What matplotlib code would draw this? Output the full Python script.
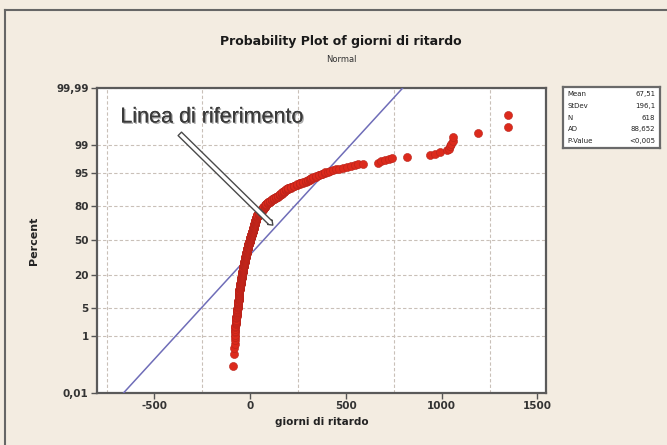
import numpy as np
import matplotlib
matplotlib.use("Agg")
import matplotlib.pyplot as plt
import matplotlib.patheffects as pe
from matplotlib.lines import Line2D
from statistics import NormalDist

plt.rcParams["axes.unicode_minus"] = False

# delay in days, tabulated as value -> number of orders with that delay
delay_days = [
    -90, -84, -80, -77, -73, -69, -64, -60, -56, -51, -46, -41, -36, -31,
    -26, -21, -16, -11, -6, 0, 5, 10, 15, 20, 25, 30, 38, 45, 55, 65, 75,
    85, 95, 105, 115, 125, 135, 145, 155, 165, 176, 188, 200, 215, 230, 245,
    260, 275, 290, 300, 310, 320, 330, 345, 360, 375, 390, 405, 418, 432,
    448, 465, 485, 505, 525, 545, 565, 590, 665, 685, 705, 725, 740, 820,
    940, 965, 990, 1030, 1040, 1045, 1050, 1058, 1060, 1190, 1345,
]
n_orders = [
    1, 2, 4, 5, 8, 10, 14, 14, 14, 18, 22, 25, 25, 24,
    26, 24, 25, 25, 16, 24, 18, 18, 20, 22, 20, 16, 14, 12, 12, 11, 9,
    7, 6, 5, 5, 5, 4, 4, 5, 5, 5, 4, 4, 3, 3, 3,
    3, 2, 2, 2, 2, 2, 2, 2, 2, 2, 2, 1, 1, 1,
    1, 1, 1, 1, 1, 1, 1, 1, 1, 1, 1, 1, 1, 1,
    1, 1, 1, 1, 1, 1, 1, 1, 1, 1, 2,
]

# fitted normal and summary table
fit_mean = 67.51
fit_sd = 196.1
stat_labels = ["Mean", "StDev", "N", "AD", "P-Value"]
stat_values = ["67,51", "196,1", "618", "88,652", "<0,005"]

y_ticks = [0.01, 1, 5, 20, 50, 80, 95, 99, 99.99]
y_ticklabels = ["0,01", "1", "5", "20", "50", "80", "95", "99", "99,99"]
x_ticks = [-500, 0, 500, 1000, 1500]
x_grid = [-750, -500, -250, 0, 250, 500, 750, 1000, 1250, 1500]

bg = "#F3ECE1"
red = "#DC2A1C"
ref_color = "#6F6DB8"
grid_color = "#C9C0B8"

_nd = NormalDist()
_inv = np.vectorize(_nd.inv_cdf, otypes=[float])
_cdf = np.vectorize(_nd.cdf, otypes=[float])


def pct_to_z(p):
    p = np.clip(np.asarray(p, dtype=float) / 100.0, 1e-12, 1 - 1e-12)
    p = np.where(np.isfinite(p), p, 0.5)
    return _inv(p)


def z_to_pct(z):
    z = np.asarray(z, dtype=float)
    return _cdf(np.where(np.isfinite(z), z, 0.0)) * 100.0


# sorted sample and median-rank plotting positions
values = np.repeat(delay_days, n_orders)
n = len(values)
ranks = np.arange(1, n + 1)
pct = (ranks - 0.3) / (n + 0.4) * 100.0

fig = plt.figure(figsize=(6.67, 4.45), dpi=100)
fig.patch.set_facecolor(bg)

ax = fig.add_axes([97 / 667, 1 - 393 / 445, 449 / 667, 305 / 445])
ax.set_facecolor("white")
ax.set_yscale("function", functions=(pct_to_z, z_to_pct))
ax.set_ylim(0.01, 99.99)
ax.set_xlim(-800, 1545)

# reference line from the fitted normal
ref_pct = np.array([0.01, 99.99])
ref_x = fit_mean + fit_sd * pct_to_z(ref_pct)
ax.plot(ref_x, ref_pct, color=ref_color, lw=1.1, zorder=3)

ax.plot(values, pct, "o", ms=5.8, color=red, mec="#B8231A", mew=0.4,
        zorder=4)

ax.set_yticks(y_ticks)
ax.set_yticklabels(y_ticklabels)
ax.yaxis.set_minor_locator(matplotlib.ticker.NullLocator())
ax.set_xticks(x_ticks)
ax.set_xticks(x_grid, minor=True)
ax.tick_params(which="major", direction="out", length=4, width=1,
               color="#555555", labelsize=7.5, pad=2)
ax.tick_params(which="minor", length=0)
for lab in ax.get_xticklabels() + ax.get_yticklabels():
    lab.set_fontweight("bold")
    lab.set_color("#333333")

ax.grid(True, axis="y", which="major", color=grid_color, ls=(0, (3, 2)),
        lw=0.8, zorder=0)
ax.grid(True, axis="x", which="minor", color=grid_color, ls=(0, (3, 2)),
        lw=0.8, zorder=0)
for s in ax.spines.values():
    s.set_color("#5a5a5a")
    s.set_linewidth(1.6)

ax.set_xlabel("giorni di ritardo", fontsize=7.5, fontweight="bold",
              color="#222222", labelpad=4)
ax.set_ylabel("Percent", fontsize=8, fontweight="bold", color="#222222",
              labelpad=12)

fig.text(341 / 667, 1 - 41 / 445, "Probability Plot of giorni di ritardo",
         ha="center", va="center", fontsize=9, fontweight="bold",
         color="#1a1a1a")
fig.text(341 / 667, 1 - 60 / 445, "Normal", ha="center", va="center",
         fontsize=6, color="#333333")

# callout for the reference line
ax.text(0.052, 0.905, "Linea di riferimento", transform=ax.transAxes,
        fontsize=15.5, family="Liberation Sans", color="#3a3a3a",
        va="center", ha="left", zorder=6,
        path_effects=[pe.withSimplePatchShadow(offset=(1, -1), alpha=0.35),
                      pe.Normal()])
ax.annotate("", xy=(0.396, 0.544), xytext=(0.180, 0.856),
            xycoords="axes fraction", textcoords="axes fraction",
            arrowprops=dict(arrowstyle="simple,head_length=0.3,head_width=0.45,"
                                       "tail_width=0.35",
                            fc="white", ec="#4a4a4a", lw=1.0),
            zorder=6)

# summary table box
tab = fig.add_axes([563 / 667, 1 - 148 / 445, 97 / 667, 61 / 445])
tab.set_facecolor("white")
tab.set_xticks([])
tab.set_yticks([])
for s in tab.spines.values():
    s.set_color("#6a6a6a")
    s.set_linewidth(1.6)
for i, (lab, val) in enumerate(zip(stat_labels, stat_values)):
    yy = 0.88 - i * 0.19
    tab.text(0.05, yy, lab, fontsize=5, va="center", ha="left",
             color="#222222")
    tab.text(0.95, yy, val, fontsize=5, va="center", ha="right",
             color="#222222")

# outer frame
fig.add_artist(Line2D([5 / 667, 5 / 667], [0, 1 - 10 / 445],
                      color="#666666", lw=1.5))
fig.add_artist(Line2D([5 / 667, 1], [1 - 10 / 445, 1 - 10 / 445],
                      color="#666666", lw=1.5))

fig.savefig("out.png", dpi=100, facecolor=bg)
